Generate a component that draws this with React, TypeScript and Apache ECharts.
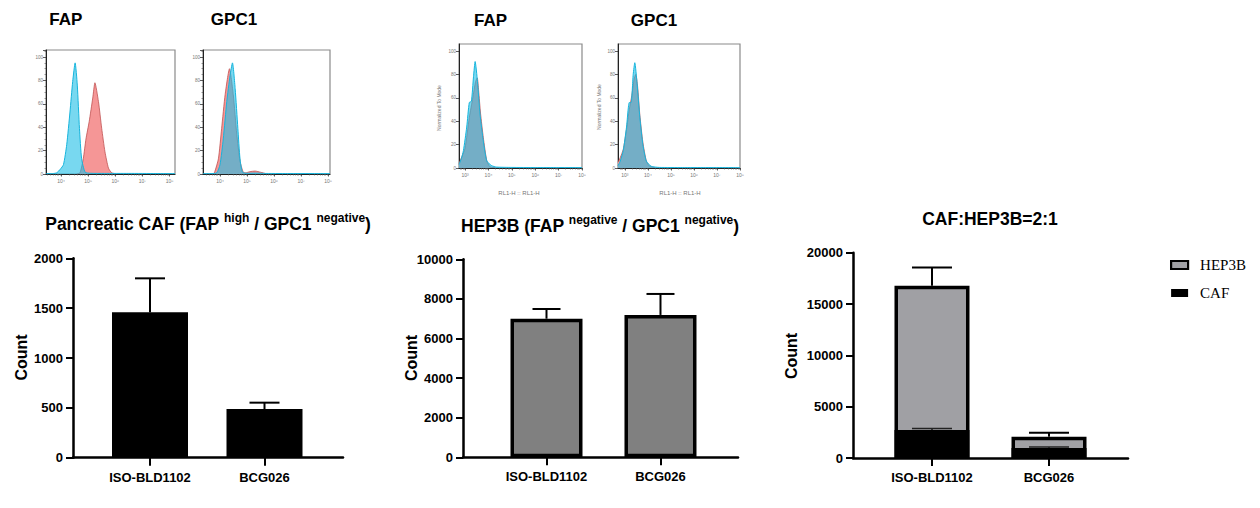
import React, { useEffect, useRef } from "react";
import * as echarts from "echarts";

// ---- Flow histograms: [log10 fluorescence, % of max] ----
const fapCafCyan = [[3.45,0.3],[3.7,0.4],[3.84,1],[3.97,4],[4.09,8],[4.21,25],[4.33,53],[4.43,79],[4.52,95],[4.6,76],[4.68,39],[4.76,13],[4.89,1.5],[5.1,0.6],[5.6,0.5],[6.5,0.5],[7.5,0.4],[8.2,0.3]];
const fapCafRed = [[4.58,0],[4.7,1],[4.82,13],[4.92,30],[5.04,45],[5.17,65],[5.25,78],[5.38,62],[5.5,39],[5.62,19],[5.75,5],[5.87,1],[6.0,0.3]];
const gpcCafCyan = [[3.37,0.3],[3.7,0.4],[3.88,1],[4.0,8],[4.12,30],[4.25,62],[4.37,84],[4.46,95],[4.56,73],[4.66,39],[4.74,13],[4.83,1.5],[5.0,0.6],[5.3,0.8],[5.6,0.5],[6.5,0.4],[7.5,0.4],[8.07,0.3]];
const gpcCafRed = [[3.72,0],[3.79,1],[3.94,13],[4.06,39],[4.19,68],[4.35,90],[4.49,68],[4.62,34],[4.74,11],[4.86,1.5],[4.95,1],[5.1,2],[5.3,2.5],[5.5,1.5],[5.7,0.3]];
const fapHepCyan = [[2.74,3],[2.84,8],[2.93,15],[3.07,35],[3.18,56],[3.27,57],[3.36,78],[3.43,91],[3.53,74],[3.64,46],[3.78,23],[3.93,6],[4.14,2],[4.35,0.8],[5.0,0.5],[6.0,0.4],[7.0,0.4],[8.0,0.3]];
const fapHepRed = [[2.74,4],[2.87,10],[3.0,17],[3.18,43],[3.33,60],[3.45,74],[3.52,77],[3.58,66],[3.66,47],[3.78,26],[3.93,6],[4.07,1],[4.3,0.3]];
const gpcHepCyan = [[2.7,2],[2.8,6],[2.93,15],[3.07,35],[3.19,56],[3.27,56],[3.36,80],[3.43,90],[3.53,72],[3.65,43],[3.78,20],[3.93,6],[4.14,1.5],[4.5,0.5],[5.5,0.4],[6.5,0.4],[8.0,0.3]];
const gpcHepRed = [[2.7,5],[2.8,9],[2.93,16],[3.07,33],[3.19,50],[3.3,62],[3.4,76],[3.47,80],[3.55,70],[3.65,45],[3.78,22],[3.93,6],[4.07,1.5],[4.3,0.3]];

const histTitles = ["FAP", "GPC1", "FAP", "GPC1"];
const cafDecades = [4, 5, 6, 7, 8];
const hepDecades = [3, 4, 5, 6, 7, 8];

// ---- Bar charts ----
const groups = ["ISO-BLD1102", "BCG026"];
const cafMean = [1458, 488];
const cafSd = [341, 64];
const hepMean = [7000, 7190];
const hepSd = [490, 1060];
const mixCafMean = [2730, 975];
const mixCafSd = [150, 95];
const mixHepMean = [14050, 1100];
const mixTotalSd = [1790, 390];

const SANS = '"Liberation Sans", Arial, sans-serif';
const SERIF = '"Liberation Serif", "Times New Roman", serif';
const SUP: Record<string, string> = { "0": "⁰", "1": "¹", "2": "²", "3": "³", "4": "⁴", "5": "⁵", "6": "⁶", "7": "⁷", "8": "⁸", "9": "⁹" };

const histPanels = [
  { left: 46, top: 50, width: 129, height: 124, xMin: 3.446, xMax: 8.203, decades: cafDecades, minorY: true, cyan: fapCafCyan, red: fapCafRed },
  { left: 203, top: 50, width: 127, height: 124, xMin: 3.37, xMax: 8.07, decades: cafDecades, minorY: true, cyan: gpcCafCyan, red: gpcCafRed },
  { left: 459, top: 44, width: 123, height: 124, xMin: 2.74, xMax: 8.0, decades: hepDecades, minorY: false, cyan: fapHepCyan, red: fapHepRed },
  { left: 618, top: 44, width: 122, height: 124, xMin: 2.7, xMax: 8.0, decades: hepDecades, minorY: false, cyan: gpcHepCyan, red: gpcHepRed },
];

const barPanels = [
  { left: 73, top: 258.3, width: 270, height: 199.4, xMin: 0.3275, xMax: 2.6856, yMax: 2000, yStep: 500 },
  { left: 463, top: 259.3, width: 275, height: 198, xMin: 0.2675, xMax: 2.68, yMax: 10000, yStep: 2000 },
  { left: 853, top: 252.7, width: 275, height: 205.3, xMin: 0.325, xMax: 2.675, yMax: 20000, yStep: 5000 },
];

function minorLogTicks(min: number, max: number) {
  const out: number[] = [];
  for (let d = Math.floor(min); d <= Math.ceil(max); d++) {
    for (let k = 2; k <= 9; k++) {
      const v = d + Math.log10(k);
      if (v > min && v < max) out.push(v);
    }
  }
  return out;
}

const errRender = (half: number, color: string, lw: number) => (params: any, api: any) => {
  const x = api.value(0);
  const m = api.value(1);
  const s = api.value(2);
  const a = api.coord([x, m]);
  const b = api.coord([x, m + s]);
  return {
    type: "group",
    children: [
      { type: "line", shape: { x1: a[0], y1: a[1], x2: b[0], y2: b[1] }, style: { stroke: color, lineWidth: lw } },
      { type: "line", shape: { x1: b[0] - half, y1: b[1], x2: b[0] + half, y2: b[1] }, style: { stroke: color, lineWidth: lw } },
    ],
  };
};

function buildOption() {
  const grid: any[] = [];
  const xAxis: any[] = [];
  const yAxis: any[] = [];
  const series: any[] = [];

  histPanels.forEach((p, i) => {
    grid.push({
      left: p.left, top: p.top, width: p.width, height: p.height,
      show: true, borderColor: "#8a8a8a", borderWidth: 1.2, backgroundColor: "transparent",
      containLabel: false, outerBoundsMode: "none",
    });
    xAxis.push({
      type: "value", gridIndex: i, min: p.xMin, max: p.xMax,
      axisLine: { show: true, onZero: false, lineStyle: { color: "#222", width: 1 } },
      axisTick: { show: true, length: 2.5, customValues: p.decades, lineStyle: { color: "#333", width: 0.8 } },
      axisLabel: { show: true, customValues: p.decades, formatter: (v: number) => "10" + (SUP[String(Math.round(v))] || ""), fontSize: 5, color: "#777", margin: 4, fontFamily: SANS },
      splitLine: { show: false },
    });
    xAxis.push({
      type: "value", gridIndex: i, min: p.xMin, max: p.xMax, position: "bottom",
      axisLine: { show: false, onZero: false },
      axisTick: { show: true, length: 1.5, customValues: minorLogTicks(p.xMin, p.xMax), lineStyle: { color: "#555", width: 0.6 } },
      axisLabel: { show: false },
      splitLine: { show: false },
    });
    yAxis.push({
      type: "value", gridIndex: i, min: 0, max: 106, interval: 20,
      axisLine: { show: true, onZero: false, lineStyle: { color: "#222", width: 1 } },
      axisTick: { show: true, length: 3, lineStyle: { color: "#333", width: 0.8 } },
      minorTick: { show: p.minorY, splitNumber: 4, length: 1.5, lineStyle: { color: "#555", width: 0.6 } },
      axisLabel: { fontSize: 4.5, color: "#777", margin: 3, showMaxLabel: false, fontFamily: SANS, formatter: (v: number) => String(v) },
      splitLine: { show: false },
    });
    series.push({
      type: "line", xAxisIndex: 2 * i, yAxisIndex: i, data: p.red, smooth: 0.2, showSymbol: false, symbol: "none",
      lineStyle: { color: "#c05050", width: 0.8 }, areaStyle: { color: "rgb(245,150,150)", opacity: 1 }, z: 2,
    });
    series.push({
      type: "line", xAxisIndex: 2 * i, yAxisIndex: i, data: p.cyan, smooth: 0.2, showSymbol: false, symbol: "none",
      lineStyle: { color: "#16b4dc", width: 1 }, areaStyle: { color: "rgb(30,190,230)", opacity: 0.6 }, z: 3,
    });
  });

  barPanels.forEach((p, j) => {
    const gi = histPanels.length + j;
    grid.push({ left: p.left, top: p.top, width: p.width, height: p.height, containLabel: false, outerBoundsMode: "none" });
    xAxis.push({
      type: "value", gridIndex: gi, min: p.xMin, max: p.xMax,
      axisLine: { show: true, onZero: false, lineStyle: { color: "#000", width: 2.5 } },
      axisTick: { show: true, length: 8, customValues: [1, 2], lineStyle: { color: "#000", width: 2 } },
      axisLabel: { show: true, customValues: [1, 2], formatter: (v: number) => groups[Math.round(v) - 1] || "", fontWeight: "bold", fontSize: 13, color: "#000", fontFamily: SANS, margin: 13 },
      splitLine: { show: false },
    });
    yAxis.push({
      type: "value", gridIndex: gi, min: 0, max: p.yMax, interval: p.yStep,
      axisLine: { show: true, onZero: false, lineStyle: { color: "#000", width: 2.5 } },
      axisTick: { show: true, length: 7, lineStyle: { color: "#000", width: 2 } },
      axisLabel: { fontWeight: "bold", fontSize: 13, color: "#000", fontFamily: SANS, margin: 10, formatter: (v: number) => String(v) },
      splitLine: { show: false },
    });
  });

  const xb = 2 * histPanels.length;
  const yb = histPanels.length;

  // Chart 1: pancreatic CAF
  series.push({
    name: "cafBars", type: "bar", xAxisIndex: xb, yAxisIndex: yb, barWidth: 76,
    data: groups.map((g, i) => [i + 1, cafMean[i]]), itemStyle: { color: "#000" },
  });
  series.push({
    name: "cafErr", type: "custom", xAxisIndex: xb, yAxisIndex: yb, z: 5, encode: { x: 0, y: 1 },
    data: groups.map((g, i) => [i + 1, cafMean[i], cafSd[i]]), renderItem: errRender(15, "#000", 2),
  });
  // Chart 2: HEP3B
  series.push({
    name: "hepBars", type: "bar", xAxisIndex: xb + 1, yAxisIndex: yb + 1, barWidth: 72,
    data: groups.map((g, i) => [i + 1, hepMean[i]]), itemStyle: { color: "#808080", borderColor: "#000", borderWidth: 3.5 },
  });
  series.push({
    name: "hepErr", type: "custom", xAxisIndex: xb + 1, yAxisIndex: yb + 1, z: 5, encode: { x: 0, y: 1 },
    data: groups.map((g, i) => [i + 1, hepMean[i], hepSd[i]]), renderItem: errRender(14, "#000", 2),
  });
  // Chart 3: mixed culture, stacked (HEP3B segment drawn from CAF top; CAF segment overlaid at the base)
  series.push({
    name: "HEP3B", type: "bar", xAxisIndex: xb + 2, yAxisIndex: yb + 2, barWidth: 75, barGap: "-100%", z: 2,
    data: groups.map((g, i) => [i + 1, mixCafMean[i] + mixHepMean[i]]), itemStyle: { color: "#a0a0a4", borderColor: "#000", borderWidth: 3.5 },
  });
  series.push({
    name: "CAF", type: "bar", xAxisIndex: xb + 2, yAxisIndex: yb + 2, barWidth: 75, barGap: "-100%", z: 3,
    data: groups.map((g, i) => [i + 1, mixCafMean[i]]), itemStyle: { color: "#000", borderColor: "#000", borderWidth: 3.5 },
  });
  series.push({
    name: "mixCafErr", type: "custom", xAxisIndex: xb + 2, yAxisIndex: yb + 2, z: 5, encode: { x: 0, y: 1 },
    data: groups.map((g, i) => [i + 1, mixCafMean[i], mixCafSd[i]]), renderItem: errRender(20, "#222", 1.6),
  });
  series.push({
    name: "mixTotalErr", type: "custom", xAxisIndex: xb + 2, yAxisIndex: yb + 2, z: 5, encode: { x: 0, y: 1 },
    data: groups.map((g, i) => [i + 1, mixCafMean[i] + mixHepMean[i], mixTotalSd[i]]), renderItem: errRender(20, "#000", 2),
  });

  const titleRich = {
    m: { fontSize: 17.5, fontWeight: "bold", fontFamily: SANS, color: "#000", lineHeight: 24 },
    s: { fontSize: 12, fontWeight: "bold", fontFamily: SANS, color: "#000", lineHeight: 12, verticalAlign: "top" },
  };

  const histTitlePos = [[65.8, 19.2], [234, 19.2], [490.5, 20.5], [654, 20.5]];
  const elements: any[] = [];
  histTitles.forEach((t, i) => {
    elements.push({
      type: "text", x: histTitlePos[i][0], y: histTitlePos[i][1], silent: true,
      style: { text: t, font: `bold 17px ${SANS}`, fill: "#000", align: "center", verticalAlign: "middle" },
    });
  });
  elements.push({
    type: "text", x: 208, y: 224, silent: true,
    style: { text: "{m|Pancreatic CAF (FAP }{s|high}{m| / GPC1 }{s|negative}{m|)}", rich: titleRich, align: "center", verticalAlign: "middle" },
  });
  elements.push({
    type: "text", x: 600, y: 225.7, silent: true,
    style: { text: "{m|HEP3B (FAP }{s|negative}{m| / GPC1 }{s|negative}{m|)}", rich: titleRich, align: "center", verticalAlign: "middle" },
  });
  elements.push({
    type: "text", x: 990, y: 218.5, silent: true,
    style: { text: "CAF:HEP3B=2:1", font: `bold 17.5px ${SANS}`, fill: "#000", align: "center", verticalAlign: "middle" },
  });
  [[21.5, 357.5], [411.5, 358], [791, 356]].forEach(([x, y]) => {
    elements.push({
      type: "text", x, y, rotation: Math.PI / 2, silent: true,
      style: { text: "Count", font: `bold 16px ${SANS}`, fill: "#000", align: "center", verticalAlign: "middle" },
    });
  });
  [[519, 193], [680, 193]].forEach(([x, y]) => {
    elements.push({
      type: "text", x, y, silent: true,
      style: { text: "RL1-H :: RL1-H", font: `6px ${SANS}`, fill: "#777", align: "center", verticalAlign: "middle" },
    });
  });
  [[438.5, 108], [598.5, 107]].forEach(([x, y]) => {
    elements.push({
      type: "text", x, y, rotation: Math.PI / 2, silent: true,
      style: { text: "Normalized To Mode", font: `5px ${SANS}`, fill: "#777", align: "center", verticalAlign: "middle" },
    });
  });

  return {
    animation: false,
    backgroundColor: "#fff",
    grid,
    xAxis,
    yAxis,
    series,
    legend: {
      orient: "vertical", left: 1170, top: 257.5, padding: 0, itemGap: 13, itemWidth: 17, itemHeight: 8,
      selectedMode: false, icon: "rect",
      textStyle: { fontFamily: SERIF, fontSize: 15, color: "#000", padding: [0, 0, 0, 7] },
      data: [
        { name: "HEP3B", icon: "rect", itemStyle: { color: "#a0a0a4", borderColor: "#000", borderWidth: 2.2 } },
        { name: "CAF", icon: "rect", itemStyle: { color: "#000", borderWidth: 0 } },
      ],
    },
    graphic: { elements },
  };
}

export default function App() {
  const ref = useRef<HTMLDivElement>(null);
  useEffect(() => {
    if (!ref.current) return;
    const chart = echarts.init(ref.current, undefined, { renderer: "svg" });
    chart.setOption(buildOption() as any);
    return () => chart.dispose();
  }, []);
  return <div ref={ref} style={{ position: "absolute", left: 0, top: 0, width: 1260, height: 508 }} />;
}
